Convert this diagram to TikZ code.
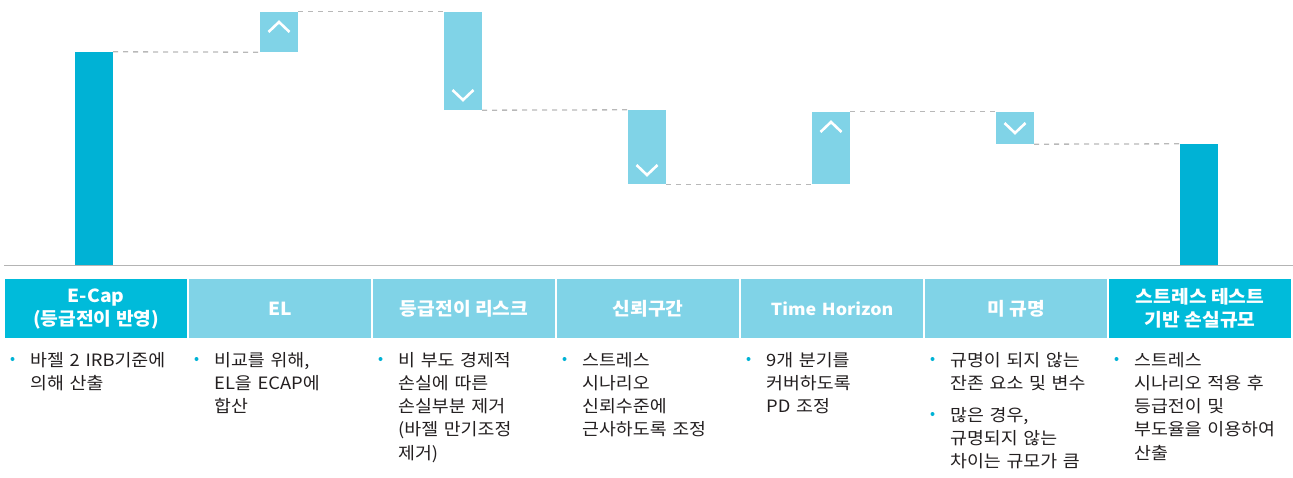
\documentclass[tikz,border=0pt]{standalone}
\usepackage{fontspec}
\setmainfont{Noto Sans CJK KR}[FakeStretch=1.08, WordSpace=1.4]
\newfontfamily\hfont{Noto Sans CJK KR}[FakeStretch=1.07]
\definecolor{darkc}{HTML}{00B2D5}
\definecolor{headdark}{HTML}{00BBDA}
\definecolor{lightc}{HTML}{80D3E7}
\definecolor{dashg}{HTML}{B8B8B8}
\definecolor{baseg}{HTML}{B4B4B4}
\definecolor{txt}{HTML}{231F20}
\tikzset{
  barbox/.style={rectangle, inner sep=0pt, minimum width=38pt, draw=none},
  chev/.style={draw=white, line width=2.6pt},
  dashline/.style={draw=dashg, line width=1.3pt, dash pattern=on 5pt off 5pt},
  headbox/.style={rectangle, anchor=north west, inner sep=0pt, minimum width=182pt, minimum height=59pt, text=white, align=center, font=\hfont\bfseries\fontsize{18}{23}\selectfont},
  bodytext/.style={anchor=base west, inner sep=0pt, text width=162pt, align=left, text=txt, font=\fontsize{17}{23.3}\selectfont},
  bdot/.style={circle, fill=darkc, inner sep=0pt, minimum size=4pt}
}
\begin{document}
\begin{tikzpicture}[x=1pt,y=-1pt]
\useasboundingbox (0,0) rectangle (1293,477);
% bars
\node[barbox, fill=darkc, minimum height=213pt] (b1) at (94,158.5) {};
\node[barbox, fill=lightc, minimum height=40pt] (b2) at (279,32) {};
\node[barbox, fill=lightc, minimum height=98pt] (b3) at (463,61) {};
\node[barbox, fill=lightc, minimum height=74pt] (b4) at (647,147) {};
\node[barbox, fill=lightc, minimum height=72pt] (b5) at (831,148) {};
\node[barbox, fill=lightc, minimum height=32pt] (b6) at (1015,128) {};
\node[barbox, fill=darkc, minimum height=121pt] (b7) at (1199,204.5) {};
% chevrons
\draw[chev] (268.5,32) -- (279,22) -- (289.5,32);
\draw[chev] (452.5,90) -- (463,100) -- (473.5,90);
\draw[chev] (636.5,165) -- (647,175) -- (657.5,165);
\draw[chev] (820.5,132) -- (831,122) -- (841.5,132);
\draw[chev] (1004.5,123) -- (1015,133) -- (1025.5,123);
% dashed connectors
\draw[dashline] (b1.north east) -- (b2.south west);
\draw[dashline] (b2.north east) -- (b3.north west);
\draw[dashline] (b3.south east) -- (b4.north west);
\draw[dashline] (b4.south east) -- (b5.south west);
\draw[dashline] (b5.north east) -- (b6.north west);
\draw[dashline] (b6.south east) -- (b7.north west);
% baseline
\coordinate (bl) at (4,265.5);
\coordinate (br) at (1293,265.5);
\draw[baseg, line width=1.6pt] (bl) -- (br);
% headers
\node[headbox, fill=headdark] (h1) at (5,279) {E-Cap\\(등급전이 반영)};
\node[headbox, fill=lightc] (h2) at (189,279) {EL};
\node[headbox, fill=lightc] (h3) at (373,279) {등급전이 리스크};
\node[headbox, fill=lightc] (h4) at (557,279) {신뢰구간};
\node[headbox, fill=lightc, font=\bfseries\fontsize{16.5}{22}\selectfont] (h5) at (741,279) {Time Horizon};
\node[headbox, fill=lightc] (h6) at (925,279) {미 규명};
\node[headbox, fill=headdark] (h7) at (1109,279) {스트레스 테스트\\기반 손실규모};
% bullets
\node[bdot] (d1) at (12.5,359) {};
\node[bodytext] (t1) at (30,366) {바젤 2 IRB기준에\\의해 산출};
\node[bdot] (d2) at (196.5,359) {};
\node[bodytext] (t2) at (214,366) {비교를 위해,\\EL을 ECAP에\\합산};
\node[bdot] (d3) at (380.5,359) {};
\node[bodytext] (t3) at (398,366) {비 부도 경제적\\손실에 따른\\손실부분 제거\\(바젤 만기조정\\제거)};
\node[bdot] (d4) at (564.5,359) {};
\node[bodytext] (t4) at (582,366) {스트레스\\시나리오\\신뢰수준에\\근사하도록 조정};
\node[bdot] (d5) at (748.5,359) {};
\node[bodytext] (t5) at (766,366) {9개 분기를\\커버하도록\\PD 조정};
\node[bdot] (d6) at (932.5,359) {};
\node[bodytext] (t6) at (950,366) {규명이 되지 않는\\잔존 요소 및 변수};
\node[bdot] (d6b) at (932.5,414) {};
\node[bodytext] (t6b) at (950,421) {많은 경우,\\규명되지 않는\\차이는 규모가 큼};
\node[bdot] (d7) at (1116.5,359) {};
\node[bodytext] (t7) at (1134,366) {스트레스\\시나리오 적용 후\\등급전이 및\\부도율을 이용하여\\산출};
\end{tikzpicture}
\end{document}
